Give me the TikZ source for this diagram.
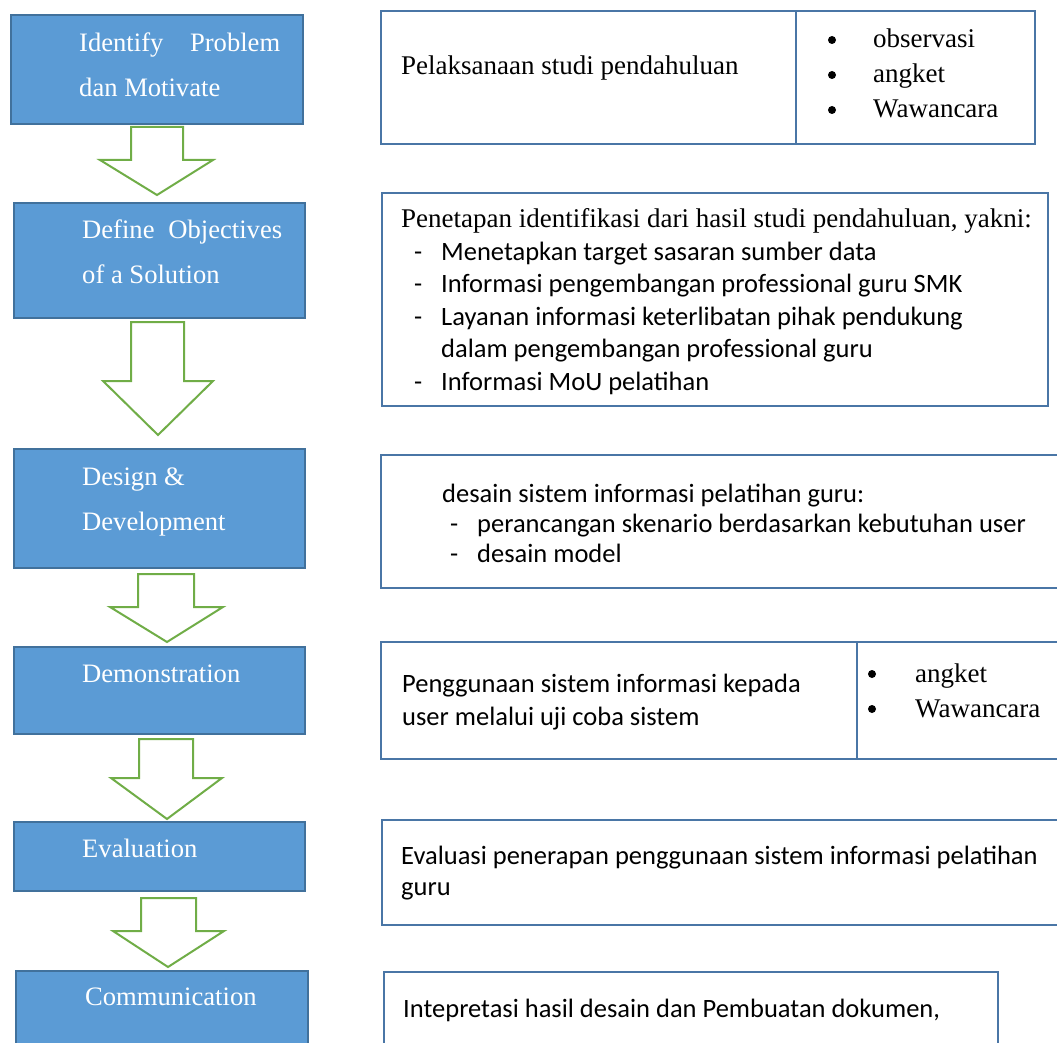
\documentclass[tikz,border=0pt]{standalone}
\usepackage{fontspec}
\setmainfont{Liberation Serif}
\newfontfamily\calibri{Carlito}
\usetikzlibrary{calc}

\definecolor{stageblue}{HTML}{5B9BD5}
\definecolor{stageedge}{HTML}{41719C}
\definecolor{infoedge}{HTML}{4A76A6}
\definecolor{flowgreen}{HTML}{70AD47}

\begin{document}
\begin{tikzpicture}[x=1pt,y=-1pt,
    stage/.style={draw=stageedge, fill=stageblue, line width=2pt, anchor=north west, inner sep=0pt},
    stagetext/.style={text=white, anchor=base west, inner sep=0pt, font=\fontsize{26.6}{32}\selectfont},
    infobox/.style={draw=infoedge, line width=2.2pt, anchor=north west, inner sep=0pt},
    serif/.style={anchor=base west, inner sep=0pt, font=\fontsize{27}{32}\selectfont},
    sans/.style={anchor=base west, inner sep=0pt, font=\calibri\fontsize{26.5}{32}\selectfont},
    dot/.style={circle, fill=black, inner sep=0pt, minimum size=8pt},
    flowarrow/.style={draw=flowgreen, line width=2pt, fill=white, line join=miter}]
    \useasboundingbox (0,0) rectangle (1057,1043);
    \clip (0,0) rectangle (1057,1043);

    % stages on the left
    \node[stage, minimum width=292, minimum height=109] (idf) at (10,14) {};
    \node[stage, minimum width=291, minimum height=115] (def) at (13,202) {};
    \node[stage, minimum width=291, minimum height=119] (dsg) at (13,448) {};
    \node[stage, minimum width=291, minimum height=87] (dem) at (13,646) {};
    \node[stage, minimum width=291, minimum height=69] (evl) at (13,821) {};
    \node[stage, minimum width=292, minimum height=100] (com) at (15,970) {};

    \node[stagetext] (idf1) at ([shift={(69,38)}]idf.north west) {\makebox[201pt][s]{Identify Problem}};
    \node[stagetext] (idf2) at ([shift={(69,83)}]idf.north west) {dan Motivate};
    \node[stagetext] (def1) at ([shift={(69,36)}]def.north west) {\makebox[200pt][s]{Define Objectives}};
    \node[stagetext] (def2) at ([shift={(69,81)}]def.north west) {of a Solution};
    \node[stagetext] (dsg1) at ([shift={(69,37)}]dsg.north west) {Design \&};
    \node[stagetext] (dsg2) at ([shift={(69,82)}]dsg.north west) {Development};
    \node[stagetext] (dem1) at ([shift={(69,36)}]dem.north west) {Demonstration};
    \node[stagetext] (evl1) at ([shift={(69,36)}]evl.north west) {Evaluation};
    \node[stagetext] (com1) at ([shift={(70,35)}]com.north west) {Communication};

    % block arrows between stages
    \draw[flowarrow] ($(131,0 |- idf.south)+(0,2)$) -- (131,160) -- (100,160) -- ($(157,0 |- def.north)+(0,-7)$)
        -- (213,160) -- (183,160) -- ($(183,0 |- idf.south)+(0,2)$) -- cycle;
    \draw[flowarrow] ($(131,0 |- def.south)+(0,3)$) -- (131,381) -- (103,381) -- ($(158,0 |- dsg.north)+(0,-13)$)
        -- (213,381) -- (184,381) -- ($(184,0 |- def.south)+(0,3)$) -- cycle;
    \draw[flowarrow] ($(138,0 |- dsg.south)+(0,5)$) -- (138,607) -- (110,607) -- ($(167,0 |- dem.north)+(0,-4)$)
        -- (223,607) -- (194,607) -- ($(194,0 |- dsg.south)+(0,5)$) -- cycle;
    \draw[flowarrow] ($(139,0 |- dem.south)+(0,4)$) -- (139,778) -- (111,778) -- ($(167,0 |- evl.north)+(0,-2)$)
        -- (222,778) -- (193,778) -- ($(193,0 |- dem.south)+(0,4)$) -- cycle;
    \draw[flowarrow] ($(141,0 |- evl.south)+(0,6)$) -- (141,931) -- (113,931) -- ($(168,0 |- com.north)+(0,-3)$)
        -- (224,931) -- (196,931) -- ($(196,0 |- evl.south)+(0,6)$) -- cycle;

    % boxes on the right
    \node[infobox, minimum width=415, minimum height=133] (pre) at (380,10) {};
    \node[infobox, minimum width=239, minimum height=133] (preway) at (795,10) {};
    \node[infobox, minimum width=666, minimum height=213] (obj) at (381,192) {};
    \node[infobox, minimum width=700, minimum height=133] (des) at (380,454) {};
    \node[infobox, minimum width=476, minimum height=117] (use) at (380,641) {};
    \node[infobox, minimum width=220, minimum height=117] (useway) at (856,641) {};
    \node[infobox, minimum width=700, minimum height=105] (eva) at (381,819) {};
    \node[infobox, minimum width=614, minimum height=100] (doc) at (383,971) {};

    \node[serif] (pre1) at (401,75) {Pelaksanaan studi pendahuluan};
    \foreach \y/\t in {48/observasi, 83/angket, 118/Wawancara} {
        \node[dot] (predot\y) at (832,\y-8) {};
        \node[serif] (preway\y) at (873,\y) {\t};
    }

    \node[serif] (obj1) at (401,227) {Penetapan identifikasi dari hasil studi pendahuluan, yakni:};
    \foreach \y/\t in {260/Menetapkan target sasaran sumber data,
                       292/Informasi pengembangan professional guru SMK,
                       325/Layanan informasi keterlibatan pihak pendukung,
                       390/Informasi MoU pelatihan} {
        \node[sans] (objdash\y) at (414,\y) {-};
        \node[sans] (obj\y) at (441,\y) {\t};
    }
    \node[sans] (obj357) at (441,357) {dalam pengembangan professional guru};

    \node[sans] (des1) at (442,502) {desain sistem informasi pelatihan guru:};
    \foreach \y/\t in {532/perancangan skenario berdasarkan kebutuhan user, 562/desain model} {
        \node[sans] (desdash\y) at (450,\y) {-};
        \node[sans] (des\y) at (477,\y) {\t};
    }

    \node[sans] (use1) at (402,692) {Penggunaan sistem informasi kepada};
    \node[sans] (use2) at (402,725) {user melalui uji coba sistem};
    \foreach \y/\t in {682/angket, 717/Wawancara} {
        \node[dot] (usedot\y) at (872,\y-8) {};
        \node[serif] (useway\y) at (915,\y) {\t};
    }

    \node[sans] (eva1) at (401,864) {Evaluasi penerapan penggunaan sistem informasi pelatihan};
    \node[sans] (eva2) at (401,895) {guru};

    \node[sans] (doc1) at (403,1017) {Intepretasi hasil desain dan Pembuatan dokumen,};
\end{tikzpicture}
\end{document}
